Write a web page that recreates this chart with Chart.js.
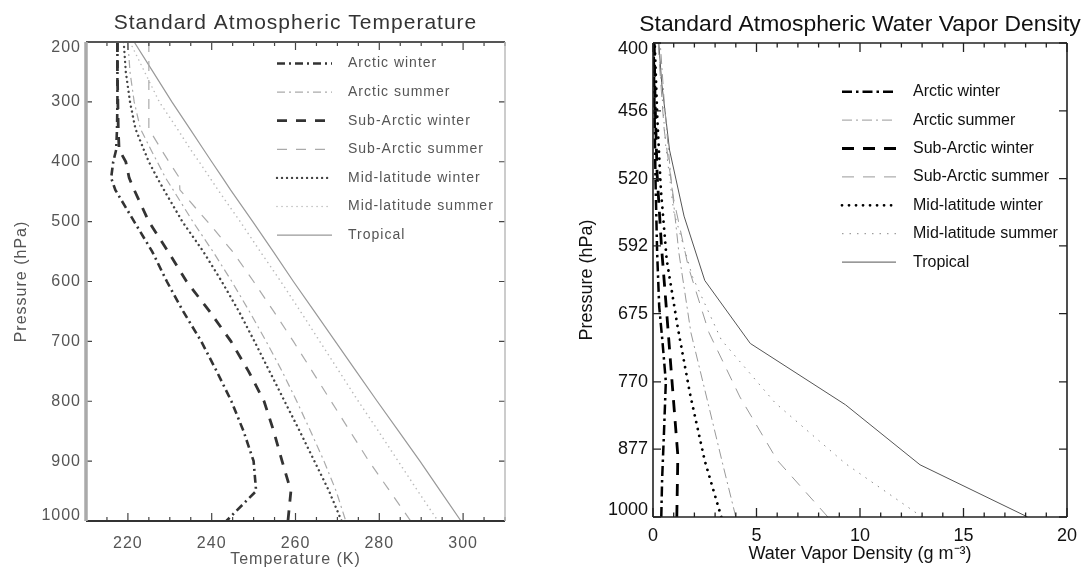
<!DOCTYPE html>
<html><head><meta charset="utf-8">
<script src="https://cdn.jsdelivr.net/npm/chart.js@4.4.1/dist/chart.umd.min.js"></script>
<style>
html,body{margin:0;padding:0;background:#fff;width:1082px;height:571px;overflow:hidden;}
#c1{position:absolute;left:0;top:0;filter:blur(0.5px);}
#c2{position:absolute;left:540px;top:0;}
</style></head><body>
<canvas id="c1" width="540" height="571"></canvas>
<canvas id="c2" width="542" height="571"></canvas>
<script>
// ---------------- DATA ----------------
const seriesNames = ['Arctic winter','Arctic summer','Sub-Arctic winter','Sub-Arctic summer','Mid-latitude winter','Mid-latitude summer','Tropical'];

// Left panel: temperature (K) at pressure levels (hPa)
const tempLevels    = [200,250,300,345,380,400,427,447,500,550,600,650,700,750,800,850,900,950,1000];
const tArcticWinter = [217.5,217.5,217.5,217.4,217.2,216.5,216.0,217.0,221.5,225.8,229.3,233.2,237.5,241.2,244.7,247.6,250.0,250.6,243.5];
const tArcticSummer = [220.0,220.5,221.5,223.0,225.5,227.0,229.0,230.8,235.5,240.3,244.8,249.0,253.0,256.8,260.3,263.6,266.8,269.7,272.0];
const tSubArcWinter = [217.5,217.5,217.6,217.7,217.9,219.5,220.3,221.5,225.0,229.6,234.0,239.5,244.6,248.8,252.5,254.8,256.8,258.9,258.2];
const tSubArcSummer = [225.0,225.0,225.0,225.0,228.0,229.8,232.3,232.4,239.0,245.0,250.0,254.8,259.5,264.0,268.5,273.0,277.5,282.5,287.5];
const tMidLatWinter = [219.0,219.5,220.5,221.8,223.8,225.0,227.0,228.6,233.0,238.0,242.4,246.5,250.2,253.8,257.4,261.0,264.5,268.0,271.0];
const tMidLatSummer = [220.5,224.0,227.5,231.8,235.0,237.0,239.6,241.5,246.8,251.6,256.5,261.2,265.8,270.4,275.0,279.8,284.5,289.2,294.0];
const tTropical     = [221.5,226.0,230.5,234.8,238.1,240.0,242.6,244.5,249.8,254.7,259.5,264.5,269.5,274.5,279.5,284.6,289.7,294.6,299.5];
const tempXTicks = [220,240,260,280,300];
const tempYTicks = [200,300,400,500,600,700,800,900,1000];

// Right panel: water vapor density (g m-3) at pressure (hPa)
const wvArcticWinterP = [1000,930,850,770,710,666,600,520,450,400];
const wvArcticWinter  = [0.40,0.44,0.53,0.62,0.45,0.30,0.20,0.12,0.07,0.03];
const wvArcticSummerP = [1000,900,800,700,600,520,450,400];
const wvArcticSummer  = [4.0,3.35,2.64,1.83,1.25,0.87,0.55,0.35];
const wvSubArcWinterP = [1000,888,778,680,593,516,447,400];
const wvSubArcWinter  = [1.15,1.2,0.94,0.68,0.41,0.20,0.098,0.06];
const wvSubArcSummerP = [1000,896,793,700,616,541,473,412,400];
const wvSubArcSummer  = [8.45,6.0,4.2,2.7,1.7,1.0,0.54,0.29,0.26];
const wvMidLatWinterP = [1000,897,790,694,608,531,463,401];
const wvMidLatWinter  = [3.3,2.5,1.8,1.2,0.66,0.38,0.21,0.085];
const wvMidLatSummerP = [1000,902,802,710,628,554,487,426,400];
const wvMidLatSummer  = [13.0,9.3,5.9,3.3,1.9,1.0,0.61,0.37,0.28];
const wvTropicalP     = [1000,904,805,715,633,559,492,432,400];
const wvTropical      = [18.1,12.9,9.3,4.7,2.5,1.5,0.80,0.42,0.28];
const wvXTicks = [0,5,10,15,20];
const wvYTicks = [400,456,520,592,675,770,877,1000];

// ---------------- STYLES ----------------
const leftStyles = [
  {color:'#333', width:2.6, dash:[8,4,2,4]},
  {color:'#aaa', width:1.2, dash:[8,4,2,4]},
  {color:'#333', width:2.8, dash:[10,9]},
  {color:'#aaa', width:1.2, dash:[10,9]},
  {color:'#444', width:2.4, dash:[0.01,5], cap:'round'},
  {color:'#bbb', width:1.6, dash:[0.01,5], cap:'round'},
  {color:'#999', width:1.2, dash:[]}
];
const rightStyles = [
  {color:'#000', width:2.5, dash:[10,4,2.5,4]},
  {color:'#999', width:1, dash:[10,4,2,4]},
  {color:'#000', width:2.8, dash:[12,9]},
  {color:'#999', width:1, dash:[12,9]},
  {color:'#000', width:2.8, dash:[0.01,7], cap:'round'},
  {color:'#888', width:1, dash:[1.5,6]},
  {color:'#555', width:1, dash:[]}
];

function mk(label, xs, ys, st){
  return {label, data: xs.map((x,i)=>({x:x, y:ys[i]})), borderColor: st.color, borderWidth: st.width,
    borderDash: st.dash, borderCapStyle: st.cap||'butt', pointRadius:0, fill:false, tension:0};
}

// ---------------- PLUGINS ----------------
const frameTicks = {
  id:'frameTicks',
  afterDatasetsDraw(chart, args, o){
    const {ctx, chartArea:a} = chart;
    const xs = chart.scales.x, ys = chart.scales.y;
    ctx.save();
    ctx.setLineDash([]);
    ctx.lineCap = 'butt';
    ctx.strokeStyle = o.tickColor; ctx.lineWidth = o.tickWidth;
    const majors = xs.ticks.map(t=>t.value);
    ctx.beginPath();
    for (let v = xs.min; v <= xs.max + 1e-9; v += o.xMinor){
      const isMajor = majors.some(m=>Math.abs(m-v)<1e-6);
      const len = isMajor ? o.majorLen : o.minorLen;
      const px = xs.getPixelForValue(v);
      ctx.moveTo(px, a.bottom); ctx.lineTo(px, a.bottom - len);
      ctx.moveTo(px, a.top); ctx.lineTo(px, a.top + len);
    }
    ys.ticks.forEach(t=>{
      const py = ys.getPixelForValue(t.value);
      ctx.moveTo(a.left, py); ctx.lineTo(a.left + o.yLen, py);
      ctx.moveTo(a.right, py); ctx.lineTo(a.right - o.yLen, py);
    });
    ctx.stroke();
    const side = (s,x1,y1,x2,y2)=>{ctx.strokeStyle=s.color;ctx.lineWidth=s.width;ctx.beginPath();ctx.moveTo(x1,y1);ctx.lineTo(x2,y2);ctx.stroke();};
    side(o.top, a.left, a.top, a.right, a.top);
    side(o.bottom, a.left, a.bottom, a.right, a.bottom);
    side(o.right, a.right, a.top, a.right, a.bottom);
    side(o.left, a.left, a.top, a.left, a.bottom);
    ctx.restore();
  }
};
const insideLegend = {
  id:'insideLegend',
  afterDraw(chart, args, o){
    const ctx = chart.ctx;
    ctx.save();
    chart.data.datasets.forEach((ds,i)=>{
      const y = o.top + i*o.gap;
      ctx.strokeStyle = ds.borderColor; ctx.lineWidth = ds.borderWidth;
      ctx.setLineDash(ds.borderDash||[]); ctx.lineCap = ds.borderCapStyle||'butt';
      ctx.beginPath(); ctx.moveTo(o.x1, y); ctx.lineTo(o.x2, y); ctx.stroke();
      ctx.setLineDash([]);
      ctx.fillStyle = o.color; ctx.font = o.font; ctx.textBaseline = 'middle'; ctx.textAlign='left';
      ctx.fillText(ds.label, o.textX, y);
    });
    ctx.restore();
  }
};
// title centred over the plot area, allowed to be wider than it
const areaTitle = {
  id:'areaTitle',
  afterDraw(chart, args, o){
    const {ctx, chartArea:a} = chart;
    ctx.save();
    ctx.fillStyle = o.color; ctx.font = o.font; ctx.textAlign = 'center'; ctx.textBaseline = 'middle';
    ctx.fillText(o.text, (a.left + a.right)/2, o.y);
    ctx.restore();
  }
};
// keeps the end labels of the y axis inside the frame (first moved down, last moved up)
const edgeLabels = {
  id:'edgeLabels',
  beforeDraw(chart, args, o){
    const ys = chart.scales.y;
    const items = ys.getLabelItems(chart.chartArea);
    if (!items.length) return;
    const f = items[0], l = items[items.length-1];
    if (!f._shifted){ f.options.translation[1] += o.first; f._shifted = true; }
    if (!l._shifted){ l.options.translation[1] -= o.last; l._shifted = true; }
  }
};
const spacing = {
  id:'spacing',
  beforeDraw(chart, args, o){ chart.ctx.letterSpacing = o.value || '0px'; }
};

function fixY(w){ return s=>{ s.width = w; s.paddingTop = 0; s.paddingBottom = 0; }; }
function fixX(h){ return s=>{ s.height = h; s.paddingLeft = 0; s.paddingRight = 0; }; }

// ---------------- LEFT CHART ----------------
const LF = 'Liberation Sans, Arial, sans-serif';
const leftSeries = [tArcticWinter,tArcticSummer,tSubArcWinter,tSubArcSummer,tMidLatWinter,tMidLatSummer,tTropical];
new Chart(document.getElementById('c1'), {
  type:'line',
  data:{datasets: leftSeries.map((s,i)=>mk(seriesNames[i], s, tempLevels, leftStyles[i]))},
  options:{
    responsive:false, animation:false, events:[],
    layout:{padding:{left:0,right:35,top:0,bottom:0}},
    plugins:{
      legend:{display:false}, tooltip:{enabled:false},
      title:{display:true, fullSize:false, text:'Standard Atmospheric Temperature', color:'#333',
        font:{family:LF,size:21,weight:'normal'}, padding:{top:10.5,bottom:6.3}},
      spacing:{value:'1px'},
      edgeLabels:{first:6, last:5},
      frameTicks:{tickColor:'#444', tickWidth:1.2, xMinor:5, majorLen:8, minorLen:4, yLen:6,
        top:{color:'#555',width:2}, bottom:{color:'#333',width:2}, left:{color:'#aaa',width:3.5}, right:{color:'#bbb',width:1.5}},
      insideLegend:{x1:277, x2:332, textX:348, top:63.5, gap:28.6, color:'#555', font:'14px '+LF}
    },
    scales:{
      x:{type:'linear', min:210, max:310,
        afterBuildTicks:s=>{s.ticks = tempXTicks.map(v=>({value:v}));}, afterFit:fixX(50),
        grid:{display:false, drawTicks:false}, border:{display:false},
        ticks:{autoSkip:false, maxRotation:0, padding:12.5, color:'#555', font:{family:LF,size:16}, callback:v=>String(v)},
        title:{display:true, text:'Temperature (K)', color:'#555', font:{family:LF,size:16}, padding:{top:0,bottom:2}}},
      y:{type:'linear', min:200, max:1000, reverse:true,
        afterBuildTicks:s=>{s.ticks = tempYTicks.map(v=>({value:v}));}, afterFit:fixY(86),
        grid:{display:false, drawTicks:false}, border:{display:false},
        ticks:{autoSkip:false, padding:5, color:'#555', font:{family:LF,size:16}, callback:v=>String(v)},
        title:{display:true, text:'Pressure (hPa)', color:'#555', font:{family:LF,size:16}, padding:{top:12,bottom:0}}}
    }
  },
  plugins:[spacing, edgeLabels, frameTicks, insideLegend]
});

// ---------------- RIGHT CHART ----------------
const rightSeries = [
  [wvArcticWinter,wvArcticWinterP],[wvArcticSummer,wvArcticSummerP],[wvSubArcWinter,wvSubArcWinterP],
  [wvSubArcSummer,wvSubArcSummerP],[wvMidLatWinter,wvMidLatWinterP],[wvMidLatSummer,wvMidLatSummerP],[wvTropical,wvTropicalP]];
new Chart(document.getElementById('c2'), {
  type:'line',
  data:{datasets: rightSeries.map((s,i)=>mk(seriesNames[i], s[0], s[1], rightStyles[i]))},
  options:{
    responsive:false, animation:false, events:[],
    layout:{padding:{left:0,right:15,top:43,bottom:0}},
    plugins:{
      legend:{display:false}, tooltip:{enabled:false}, title:{display:false},
      areaTitle:{text:'Standard Atmospheric Water Vapor Density', color:'#111', font:'22.9px '+LF, y:25},
      edgeLabels:{first:6, last:7},
      frameTicks:{tickColor:'#222', tickWidth:1.3, xMinor:1, majorLen:9, minorLen:4.5, yLen:8,
        top:{color:'#222',width:1.6}, bottom:{color:'#222',width:1.6}, left:{color:'#222',width:1.6}, right:{color:'#222',width:1.6}},
      insideLegend:{x1:302, x2:356, textX:373, top:91.7, gap:28.4, color:'#111', font:'16px '+LF}
    },
    scales:{
      x:{type:'linear', min:0, max:20,
        afterBuildTicks:s=>{s.ticks = wvXTicks.map(v=>({value:v}));}, afterFit:fixX(54),
        grid:{display:false, drawTicks:false}, border:{display:false},
        ticks:{autoSkip:false, maxRotation:0, padding:8.7, color:'#111', font:{family:LF,size:18}, callback:v=>String(v)},
        title:{display:true, text:'Water Vapor Density (g m⁻³)', color:'#111', font:{family:LF,size:18}, padding:{top:0,bottom:6.2}}},
      y:{type:'logarithmic', min:400, max:1000, reverse:true,
        afterBuildTicks:s=>{s.ticks = wvYTicks.map(v=>({value:v}));}, afterFit:fixY(113),
        grid:{display:false, drawTicks:false}, border:{display:false},
        ticks:{autoSkip:false, padding:5, color:'#111', font:{family:LF,size:18}, callback:v=>String(v)},
        title:{display:true, text:'Pressure (hPa)', color:'#111', font:{family:LF,size:18}, padding:{top:36,bottom:0}}}
    }
  },
  plugins:[edgeLabels, frameTicks, insideLegend, areaTitle]
});
</script></body></html>
